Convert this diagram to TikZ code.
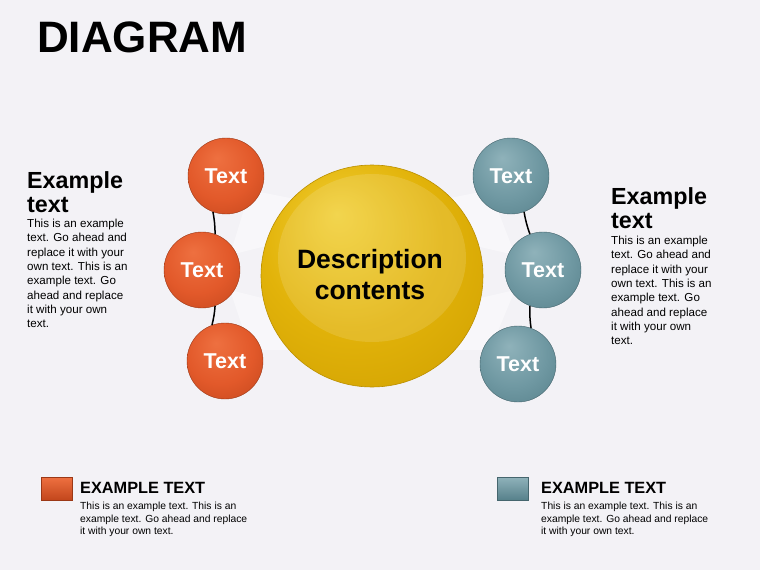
\documentclass[tikz,border=0pt]{standalone}
\usepackage{fontspec}
\setmainfont{Liberation Sans}
\usetikzlibrary{shadings}
\definecolor{bg}{HTML}{F3F2F6}
\definecolor{orL}{HTML}{EE7040}
\definecolor{orM}{HTML}{E2592A}
\definecolor{orD}{HTML}{C2461C}
\definecolor{teL}{HTML}{8FB2BA}
\definecolor{teM}{HTML}{6F98A2}
\definecolor{teD}{HTML}{56808A}
\definecolor{yeL}{HTML}{F1CF34}
\definecolor{yeM}{HTML}{E2B30A}
\definecolor{yeD}{HTML}{CF9F00}
\pgfdeclareradialshading{orball}{\pgfpoint{-6bp}{12bp}}{color(0bp)=(orL); color(22bp)=(orM); color(40bp)=(orD); color(50bp)=(orD)}
\pgfdeclareradialshading{teball}{\pgfpoint{-6bp}{12bp}}{color(0bp)=(teL); color(22bp)=(teM); color(40bp)=(teD); color(50bp)=(teD)}
\pgfdeclareradialshading{yeball}{\pgfpoint{-8bp}{14bp}}{color(0bp)=(yeL); color(20bp)=(yeM); color(40bp)=(yeD); color(48bp)=(yeD); color(50bp)=(yeM)}
\begin{document}
\begin{tikzpicture}[x=1pt,y=-1pt,
  smallorange/.style={circle,minimum size=76pt,inner sep=0pt,shading=orball,draw=orD!80!black,line width=0.4pt,
     text=white,font=\fontsize{21.5}{24}\selectfont\bfseries},
  smallteal/.style={circle,minimum size=76pt,inner sep=0pt,shading=teball,draw=teD!80!black,line width=0.4pt,
     text=white,font=\fontsize{21.5}{24}\selectfont\bfseries},
  bigball/.style={circle,minimum size=222pt,inner sep=0pt,shading=yeball,draw=yeD!90!black,line width=0.6pt},
  bigtext/.style={inner sep=0pt,font=\fontsize{26.5}{31}\selectfont\bfseries,align=center},
  link/.style={draw=black,line width=1.5pt},
  heading/.style={anchor=north west,inner sep=0pt,align=left,font=\fontsize{23.3}{24.5}\selectfont\bfseries},
  body/.style={anchor=north west,inner sep=0pt,align=left,font=\fontsize{11.6}{14.3}\selectfont},
  smallhead/.style={anchor=north west,inner sep=0pt,align=left,font=\fontsize{16.3}{18}\selectfont\bfseries},
  smallbody/.style={anchor=north west,inner sep=0pt,align=left,font=\fontsize{10.3}{12.5}\selectfont},
  swatch/.style={minimum width=31pt,minimum height=23pt,inner sep=0pt,anchor=north west}
]
\fill[bg] (0,0) rectangle (760,570);
\useasboundingbox (0,0) rectangle (760,570);

% title
\node[anchor=north west,inner sep=0pt,font=\fontsize{44}{46}\selectfont\bfseries] (title) at (37,22) {DIAGRAM};

% faint glow behind
\fill[white,opacity=0.45] (250,190) -- (300,200) -- (290,240) -- (230,255) -- cycle;
\fill[white,opacity=0.45] (230,290) -- (290,305) -- (300,350) -- (250,350) -- cycle;
\fill[white,opacity=0.45] (490,190) -- (440,200) -- (450,240) -- (515,255) -- cycle;
\fill[white,opacity=0.45] (515,290) -- (450,305) -- (440,350) -- (490,350) -- cycle;

% circles
\node[bigball] (center) at (372,276) {};
\fill[white,opacity=0.13] (372,258) ellipse [x radius=94pt, y radius=84pt];
\node[bigtext] (desc) at (370,275) {Description\\contents};
\node[smallorange] (o1) at (226,176) {Text};
\node[smallorange] (o2) at (202,270) {Text};
\node[smallorange] (o3) at (225,361) {Text};
\node[smallteal] (t1) at (511,176) {Text};
\node[smallteal] (t2) at (543,270) {Text};
\node[smallteal] (t3) at (518,364) {Text};

% links
\draw[link] (o1.250) to[bend left=5] (o2.70);
\draw[link] (o2.-70) to[bend left=5] (o3.110);
\draw[link] (t1.-70) to[bend right=5] (t2.110);
\draw[link] (t2.250) to[bend right=5] (t3.70);

% left text block
\node[heading] (lh) at (27,171) {Example\\text};
\node[body] (lb) at (27,219) {This is an example\\text. Go ahead and\\replace it with your\\own text. This is an\\example text. Go\\ahead and replace\\it with your own\\text.};

% right text block
\node[heading] (rh) at (611,187) {Example\\text};
\node[body] (rb) at (611,236) {This is an example\\text. Go ahead and\\replace it with your\\own text. This is an\\example text. Go\\ahead and replace\\it with your own\\text.};

% bottom legends
\node[swatch,top color=orL,bottom color=orD,draw=orD!80!black,line width=0.3pt] (sw1) at (41,477) {};
\node[smallhead] (bh1) at (80,482) {EXAMPLE TEXT};
\node[smallbody] (bb1) at (80,502) {This is an example text. This is an\\example text. Go ahead and replace\\it with your own text.};

\node[swatch,top color=teL,bottom color=teD,draw=teD!80!black,line width=0.3pt] (sw2) at (497,477) {};
\node[smallhead] (bh2) at (541,482) {EXAMPLE TEXT};
\node[smallbody] (bb2) at (541,502) {This is an example text. This is an\\example text. Go ahead and replace\\it with your own text.};
\end{tikzpicture}
\end{document}
